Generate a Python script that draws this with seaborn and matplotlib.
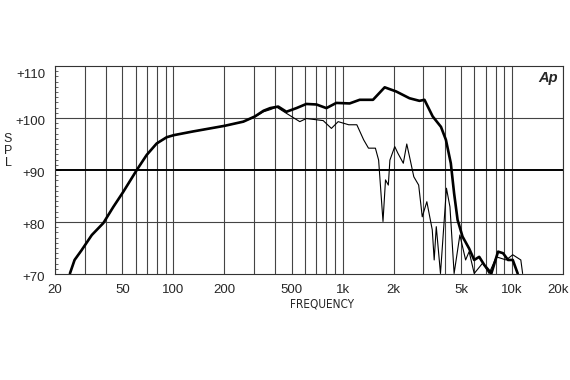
import numpy as np
import pandas as pd
import seaborn as sns
import matplotlib
matplotlib.use("Agg")
import matplotlib.pyplot as plt
import matplotlib.transforms as mtrans
from matplotlib.ticker import FixedLocator, NullFormatter, LogLocator

# on-axis response (thick line)
freq_on = [24.5, 26.1, 28.6, 33.0, 38.6, 44.2, 50.6, 60.8, 69.6, 79.7, 91.3, 100.6,
           130, 201, 259, 303, 341, 373, 416, 465, 533, 610, 700, 801, 917, 1099,
           1260, 1510, 1770, 2070, 2480, 2840, 3040, 3400, 3805, 4070, 4350, 4550,
           4770, 5100, 5580, 5980, 6400, 6870, 7550, 8270, 8850, 9470, 10100, 10800]
spl_on = [70.1, 72.7, 74.5, 77.5, 79.8, 82.9, 85.8, 90.0, 92.9, 95.1, 96.3, 96.7,
          97.4, 98.5, 99.3, 100.3, 101.4, 101.9, 102.2, 101.2, 101.9, 102.7, 102.6, 101.9, 102.9, 102.8,
          103.5, 103.5, 105.9, 105.1, 103.8, 103.3, 103.5, 100.3, 98.3, 95.8, 91.3, 85.5,
          80.4, 77.2, 74.9, 72.7, 73.3, 71.7, 70.1, 74.3, 74.0, 72.7, 72.7, 70.1]

# off-axis response (thin line)
freq_off = [24.5, 26.1, 28.6, 33.0, 38.6, 44.2, 50.6, 60.8, 69.6, 79.7, 91.3, 100.6,
            130, 201, 259, 303, 341, 373, 407, 465, 558, 610, 767, 858, 940, 1085,
            1212, 1330, 1420, 1560, 1630, 1730, 1790, 1860, 1900, 2030, 2120, 2280,
            2390, 2480, 2630, 2810, 2950, 3140, 3380, 3470, 3570, 3780, 4100, 4300,
            4550, 4920, 5320, 5580, 5980, 6710, 7320, 8080, 9240, 10100, 11270, 11550]
spl_off = [70.1, 72.7, 74.5, 77.5, 79.8, 82.9, 85.8, 90.0, 92.9, 95.1, 96.3, 96.7,
           97.4, 98.5, 99.3, 100.2, 101.2, 101.6, 102.1, 100.9, 99.3, 99.9, 99.5, 98.0, 99.3, 98.7,
           98.7, 95.8, 94.2, 94.2, 91.9, 80.1, 88.1, 87.1, 91.9, 94.5, 93.2, 91.3,
           95.0, 92.6, 88.7, 87.1, 81.0, 83.9, 78.5, 72.7, 79.1, 70.1, 86.5, 82.9,
           70.1, 77.5, 72.7, 74.3, 70.1, 72.1, 70.1, 73.3, 72.7, 73.7, 72.7, 70.1]

x_ticks = [20, 50, 100, 200, 500, 1000, 2000, 5000, 10000, 20000]
x_labels = ["20", "50", "100", "200", "500", "1k", "2k", "5k", "10k", "20k"]
y_ticks = [70, 80, 90, 100, 110]
y_labels = ["+70", "+80", "+90", "+100", "+110"]

sns.set_style("white")
plt.rcParams['font.family'] = ['Liberation Sans', 'DejaVu Sans']

fig = plt.figure(figsize=(5.7, 3.8), dpi=100)
ax = fig.add_axes([55 / 570, 1 - 274 / 380, 508 / 570, 208 / 380])

df_on = pd.DataFrame({"freq": freq_on, "spl": spl_on})
df_off = pd.DataFrame({"freq": freq_off, "spl": spl_off})

ax.set_xscale("log")
ax.set_xlim(20, 20000)
ax.set_ylim(70, 110)

# grid
ax.xaxis.set_minor_locator(LogLocator(base=10, subs=np.arange(2, 10)))
ax.xaxis.set_minor_formatter(NullFormatter())
ax.grid(True, which="both", axis="x", color="#444444", lw=0.8)
for v in y_ticks[1:-1]:
    ax.axhline(v, color="black" if v == 90 else "#444444",
               lw=1.4 if v == 90 else 0.8, zorder=1)

sns.lineplot(data=df_off, x="freq", y="spl", ax=ax, color="black", lw=0.8,
             zorder=3, estimator=None, sort=False)
sns.lineplot(data=df_on, x="freq", y="spl", ax=ax, color="black", lw=1.9,
             zorder=4, estimator=None, sort=False)

ax.set_xticks(x_ticks)
ax.set_xticklabels(x_labels)
ax.set_yticks(y_ticks)
ax.set_yticklabels(y_labels)
ax.yaxis.set_minor_locator(FixedLocator(np.arange(70, 111, 1)))
ax.tick_params(axis="x", which="both", length=0, pad=7, labelsize=9.5)
ax.tick_params(axis="y", which="major", direction="in", length=4, width=0.6,
               left=True, labelsize=9.5, pad=7)
ax.tick_params(axis="y", which="minor", direction="in", length=2.5, width=0.5, left=True)

# nudge tick labels like the original print
for i, lab in enumerate(ax.get_yticklabels()):
    dy = -7 if i == len(y_ticks) - 1 else -2.5
    lab.set_transform(lab.get_transform() + mtrans.ScaledTranslation(0, dy / 100, fig.dpi_scale_trans))
last = ax.get_xticklabels()[-1]
last.set_transform(last.get_transform() + mtrans.ScaledTranslation(-5 / 100, 0, fig.dpi_scale_trans))

for sp in ax.spines.values():
    sp.set_color("#333333")
    sp.set_linewidth(0.8)

ax.set_xlabel("")
ax.set_ylabel("")
fig.text(322 / 570, 1 - 304 / 380, "FREQUENCY", ha="center", va="center",
         fontsize=8.5, fontstretch="condensed",
         family=["Liberation Sans Narrow", "DejaVu Sans"])
fig.text(8 / 570, 1 - 151 / 380, "S\nP\nL", ha="center", va="center",
         fontsize=9, linespacing=0.95)
ax.text(0.99, 0.975, "Ap", transform=ax.transAxes, ha="right", va="top",
        fontsize=10.5, fontweight="bold", fontstyle="italic")

fig.savefig("out.png", dpi=100, facecolor="white")
